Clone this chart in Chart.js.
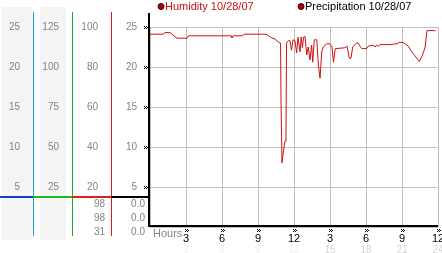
<!DOCTYPE html>
<html><head><meta charset="utf-8">
<script src="https://cdn.jsdelivr.net/npm/chart.js@4/dist/chart.umd.min.js"></script>
<style>html,body{margin:0;padding:0;background:#fff;overflow:hidden}canvas{display:block}</style>
</head><body>
<div style="width:442px;height:253px"><canvas id="c" width="442" height="253"></canvas></div>
<script>
// ---- data ----
const seriesLabels = ['Humidity 10/28/07', 'Precipitation 10/28/07'];
const hours = [
  0, 1.08, 1.25, 1.67, 1.83, 2.25, 3.08, 3.2, 6.75, 6.83,
  6.96, 7.7, 7.83, 9.67, 9.88, 10.13, 10.42, 10.7, 10.88, 10.92,
  11.0, 11.13, 11.25, 11.33, 11.38, 11.54, 11.67, 11.79, 11.92, 12.08,
  12.22, 12.33, 12.5, 12.6, 12.7, 12.8, 12.92, 13.06, 13.19, 13.33,
  13.47, 13.56, 13.69, 13.9, 14.03, 14.17, 14.31, 14.44, 14.72, 15.0,
  15.17, 15.29, 15.44, 16.25, 16.42, 16.61, 16.75, 16.89, 17.22, 17.36,
  17.5, 17.64, 18.06, 18.19, 18.61, 18.75, 18.89, 19.03, 19.17, 20.0,
  20.56, 20.83, 21.1, 21.25, 21.53, 21.81, 22.08, 22.44, 22.64, 22.92,
  23.08, 23.79
];
const humidity = [
  24.1, 24.1, 24.3, 24.3, 24.1, 23.6, 23.6, 23.9, 23.9, 23.65,
  23.9, 23.9, 24.1, 24.1, 23.9, 23.65, 23.5, 23.1, 23.0, 15.5,
  8.0, 9.6, 10.75, 11.1, 23.0, 23.3, 23.3, 22.1, 23.4, 23.3,
  21.75, 23.7, 21.9, 23.75, 22.4, 23.75, 23.8, 21.5, 22.5, 20.9,
  22.75, 20.6, 23.4, 23.4, 20.25, 18.6, 21.9, 22.5, 22.9, 22.9,
  22.5, 20.6, 22.3, 22.4, 22.6, 21.1, 21.1, 22.5, 23.0, 23.0,
  22.6, 22.3, 22.3, 22.6, 22.75, 22.5, 22.75, 22.6, 22.8, 22.8,
  22.9, 23.1, 23.05, 22.9, 22.6, 21.9, 21.4, 20.7, 21.25, 22.4,
  24.55, 24.55
];
const precipHours = [0, 24];
const precipitation = [0, 0];
const xTickLabels = ['', '3', '6', '9', '12', '3', '6', '9', '12'];
const xTickLabels2 = ['', '3', '6', '9', '12', '15', '18', '21', '24'];
const tableCol3 = ['98', '98', '31'];
const tableCol4 = ['0.0', '0.0', '0.0'];
const hoursLabel = 'Hours';

// ---- styling ----
const GRID = '#c0c0c0';
const GRAYTXT = '#858585';
const FONT = 'Liberation Sans';

function fixW(w) { return s => { s.width = w; s.paddingTop = 0; s.paddingBottom = 0; }; }
function fixH(h) { return s => { s.height = h; s.paddingLeft = 0; s.paddingRight = 0; }; }
function yAxis(max, step, w, weight, grid) {
  return {
    type: 'linear', position: 'left', min: 0, max: max, weight: weight,
    afterFit: fixW(w),
    border: { display: false },
    grid: grid ? { color: GRID, lineWidth: 1, drawTicks: false } : { display: false, drawTicks: false },
    ticks: { stepSize: step, padding: 13, color: GRAYTXT, font: { family: FONT, size: 10 },
      callback: v => v === 0 ? '' : String(v) }
  };
}

function marker(ctx, x, y) {
  ctx.fillStyle = '#000';
  const pts = [[0,0],[2,0],[1,1],[3,1],[0,2],[2,2]];
  for (const p of pts) ctx.fillRect(Math.round(x) + p[0], Math.round(y) + p[1], 1, 1);
}

const decor = {
  id: 'decor',
  beforeDraw(chart) {
    const ctx = chart.ctx, s = chart.scales;
    ctx.save();
    ctx.fillStyle = '#f4f4f4';
    ctx.fillRect(s.y1.left + 2, 7, s.y1.width - 3, 233);
    ctx.fillRect(s.y2.left + 7, 7, s.y2.width - 13, 233);
    ctx.restore();
  },
  afterDraw(chart) {
    const ctx = chart.ctx, s = chart.scales, ca = chart.chartArea;
    ctx.save();
    // colored column rules
    const vcol = [[s.y1, '#1a98e0'], [s.y2, '#18b018'], [s.y3, '#e01818']];
    for (const [sc, c] of vcol) { ctx.fillStyle = c; ctx.fillRect(Math.round(sc.right), 12, 1, 224); }
    // separator
    const sepY = Math.round(s.y.getPixelForValue(3.75)) - 1;
    const hcol = [[s.y1, '#1040d0'], [s.y2, '#20b820'], [s.y3, '#e02020'], [s.y, '#000']];
    for (const [sc, c] of hcol) { ctx.fillStyle = c; ctx.fillRect(Math.round(sc.left), sepY, Math.round(sc.width), 2); }
    // main axes
    ctx.fillStyle = '#000';
    ctx.fillRect(ca.left - 2, 13, 2, ca.bottom - 13);
    ctx.fillRect(ca.left - 2, ca.bottom - 2, ca.right - ca.left + 2, 2);
    // markers
    for (const t of s.y.ticks) if (t.value > 0) marker(ctx, ca.left - 6, s.y.getPixelForValue(t.value) - 1);
    for (const t of s.x.ticks) if (t.value > 0) marker(ctx, s.x.getPixelForValue(t.value) - 1, ca.bottom + 2);
    // table
    ctx.font = '10px ' + FONT; ctx.fillStyle = GRAYTXT; ctx.textAlign = 'right'; ctx.textBaseline = 'middle';
    tableCol3.forEach((v, i) => ctx.fillText(v, s.y3.right - 6, sepY + 8 + i * 14));
    tableCol4.forEach((v, i) => ctx.fillText(v, s.y.right - 5, sepY + 8 + i * 14));
    // hours
    ctx.font = '11px ' + FONT; ctx.textAlign = 'left'; ctx.textBaseline = 'top';
    ctx.fillText(hoursLabel, ca.left + 3, ca.bottom + 1);
    // legend
    const leg = [[161, '#cc1111'], [301, '#000']];
    ctx.textBaseline = 'middle';
    seriesLabels.forEach((lab, i) => {
      const [lx, tc] = leg[i];
      ctx.beginPath(); ctx.arc(lx, 6.5, 3, 0, Math.PI * 2);
      ctx.fillStyle = '#b00000'; ctx.fill();
      ctx.lineWidth = 1; ctx.strokeStyle = '#400000'; ctx.stroke();
      ctx.fillStyle = tc; ctx.fillText(lab, lx + 4, 7);
    });
    ctx.restore();
  }
};

new Chart(document.getElementById('c'), {
  type: 'line',
  data: {
    datasets: [
      { label: seriesLabels[0], data: hours.map((h, i) => ({ x: h, y: humidity[i] })),
        borderColor: '#cc1111', borderWidth: 1, pointRadius: 0, tension: 0, xAxisID: 'x', yAxisID: 'y' },
      { label: seriesLabels[1], data: precipHours.map((h, i) => ({ x: h, y: precipitation[i] })),
        borderColor: '#000', borderWidth: 1, pointRadius: 0, showLine: false, xAxisID: 'x', yAxisID: 'y' }
    ]
  },
  options: {
    responsive: false, animation: false, devicePixelRatio: 1,
    layout: { padding: { left: 0, right: 4, top: 27, bottom: 0 } },
    plugins: { legend: { display: false }, tooltip: { enabled: false } },
    scales: {
      x: { type: 'linear', position: 'bottom', min: 0, max: 24, weight: 0, afterFit: fixH(16),
        border: { display: false },
        grid: { color: GRID, lineWidth: 1, drawTicks: false },
        ticks: { stepSize: 3, padding: 5, maxRotation: 0, autoSkip: false, color: '#000',
          font: { family: FONT, size: 11 }, callback: (v, i) => xTickLabels[i] } },
      x2: { type: 'linear', position: 'bottom', min: 0, max: 24, weight: 1, afterFit: fixH(10),
        border: { display: false }, grid: { display: false, drawTicks: false },
        ticks: { stepSize: 3, padding: 1, maxRotation: 0, autoSkip: false,
          color: c => c.index >= 5 ? '#d6d6d6' : '#f2f2f2',
          font: { family: FONT, size: 10 }, callback: (v, i) => xTickLabels2[i] } },
      y: yAxis(25, 5, 39, 0, true),
      y3: yAxis(100, 20, 39, 1, false),
      y2: yAxis(125, 25, 39, 2, false),
      y1: yAxis(25, 5, 33, 3, false)
    }
  },
  plugins: [decor]
});
</script>
</body></html>
